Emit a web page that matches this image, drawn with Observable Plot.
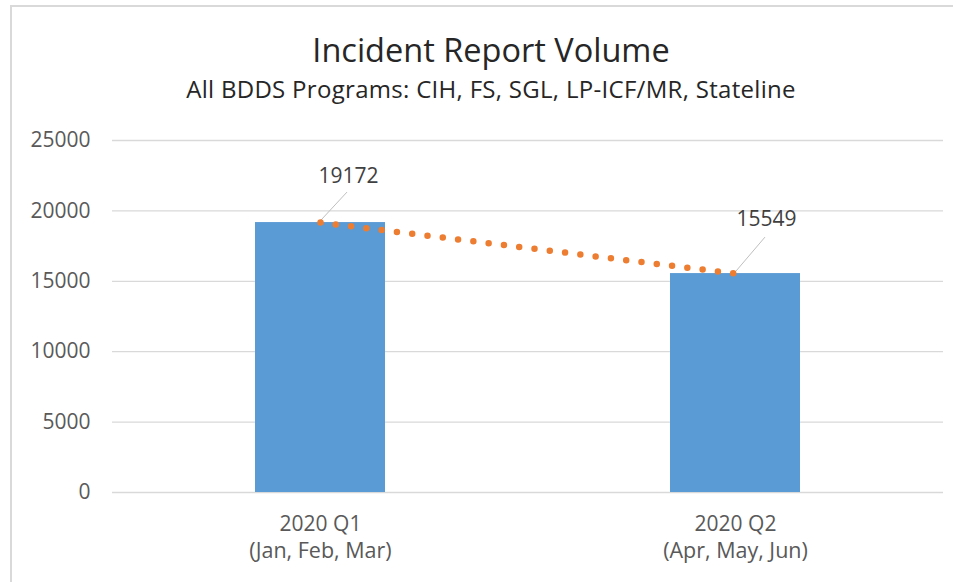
<!DOCTYPE html>
<html>
<head>
<meta charset="utf-8">
<script src="https://cdn.jsdelivr.net/npm/d3@7"></script>
<script src="https://cdn.jsdelivr.net/npm/@observablehq/plot@0.6"></script>
<style>
  html, body { margin: 0; padding: 0; background: #fff; }
  #wrap { position: relative; width: 953px; height: 582px; overflow: hidden; background: #fff; font-family: "Open Sans", sans-serif; }
  #frame { position: absolute; left: 10px; top: 5px; width: 2000px; height: 2000px; border-left: 2px solid #d9d9d9; border-top: 2px solid #d9d9d9; box-sizing: border-box; pointer-events: none; }
  #header { position: relative; height: 110px; }
  #title { position: absolute; left: 0; width: 982px; text-align: center; top: 34px; font-size: 32.5px; line-height: 1; color: #262626; white-space: nowrap; }
  #subtitle { position: absolute; left: 0; width: 982px; text-align: center; top: 77px; font-size: 24px; letter-spacing: 0.3px; line-height: 1; color: #262626; white-space: nowrap; }
  #chart svg { display: block; }
  #chart svg, #chart svg g, #chart svg text { font-family: "Open Sans", sans-serif; }
  #chart svg g[aria-label="y-axis"], #chart svg g[aria-label="y-axis"] text,
  #chart svg g[aria-label="y-axis tick label"], #chart svg g[aria-label="y-axis tick label"] text { font-size: 21px; }
</style>
</head>
<body>
<div id="wrap">
  <div id="header">
    <div id="title">Incident Report Volume</div>
    <div id="subtitle">All BDDS Programs: CIH, FS, SGL, LP-ICF/MR, Stateline</div>
  </div>
  <div id="chart"></div>
  <div id="frame"></div>
</div>
<script>
// ---- data ----
const categories = ["2020 Q1", "2020 Q2"];
const monthLabels = ["(Jan, Feb, Mar)", "(Apr, May, Jun)"];
const values = [19172, 15549];
const yTicks = [0, 5000, 10000, 15000, 20000, 25000];

const data = categories.map((c, i) => ({cat: c, months: monthLabels[i], value: values[i]}));

const barColor = "#5B9BD5";
const lineColor = "#ED7D31";
const gridColor = "#d9d9d9";
const axisText = "#595959";
const labelText = "#404040";

// leader lines for the data labels (custom function mark using Plot scales)
const leaderOffsets = [[27, -30], [30, -36]];
function leaders(index, scales) {
  const sx = scales.x, sy = scales.y;
  const bw = typeof sx.bandwidth === "function" ? sx.bandwidth() : (sx.bandwidth || 0);
  const g = d3.create("svg:g").attr("stroke", "#bfbfbf").attr("stroke-width", 1);
  data.forEach((d, i) => {
    const x0 = sx(d.cat) + bw / 2, y0 = sy(d.value);
    g.append("line")
      .attr("x1", x0 + 1).attr("y1", y0 - 2)
      .attr("x2", x0 + leaderOffsets[i][0]).attr("y2", y0 + leaderOffsets[i][1]);
  });
  return g.node();
}

const chart = Plot.plot({
  width: 953,
  height: 472,
  marginLeft: 112,
  marginRight: 10,
  marginTop: 30,
  marginBottom: 90,
  style: {fontFamily: "'Open Sans', sans-serif", fontSize: "21px", color: axisText, background: "white", overflow: "visible"},
  x: {domain: categories, paddingInner: 0.687, paddingOuter: 0.3435, axis: null},
  y: {domain: [0, 25000], ticks: yTicks, tickSize: 0, tickPadding: 22, label: null, tickFormat: d => String(d)},
  marks: [
    Plot.ruleY(yTicks, {stroke: gridColor, strokeWidth: 1.3}),
    Plot.barY(data, {x: "cat", y: "value", fill: barColor}),
    leaders,
    Plot.line(data, {x: "cat", y: "value", stroke: lineColor, strokeWidth: 6.5, strokeDasharray: "0 15.4", strokeLinecap: "round"}),
    Plot.text(data.filter((d, i) => i === 0), {x: "cat", y: "value", text: d => String(d.value), dx: 28, dy: -46, fill: labelText, fontSize: 21}),
    Plot.text(data.filter((d, i) => i === 1), {x: "cat", y: "value", text: d => String(d.value), dx: 31, dy: -54, fill: labelText, fontSize: 21}),
    Plot.text(data, {x: "cat", text: "cat", frameAnchor: "bottom", lineAnchor: "middle", dy: 32, fill: axisText, fontSize: 21}),
    Plot.text(data, {x: "cat", text: "months", frameAnchor: "bottom", lineAnchor: "middle", dy: 59, fill: axisText, fontSize: 21.5})
  ]
});
document.getElementById("chart").appendChild(chart);
</script>
</body>
</html>
